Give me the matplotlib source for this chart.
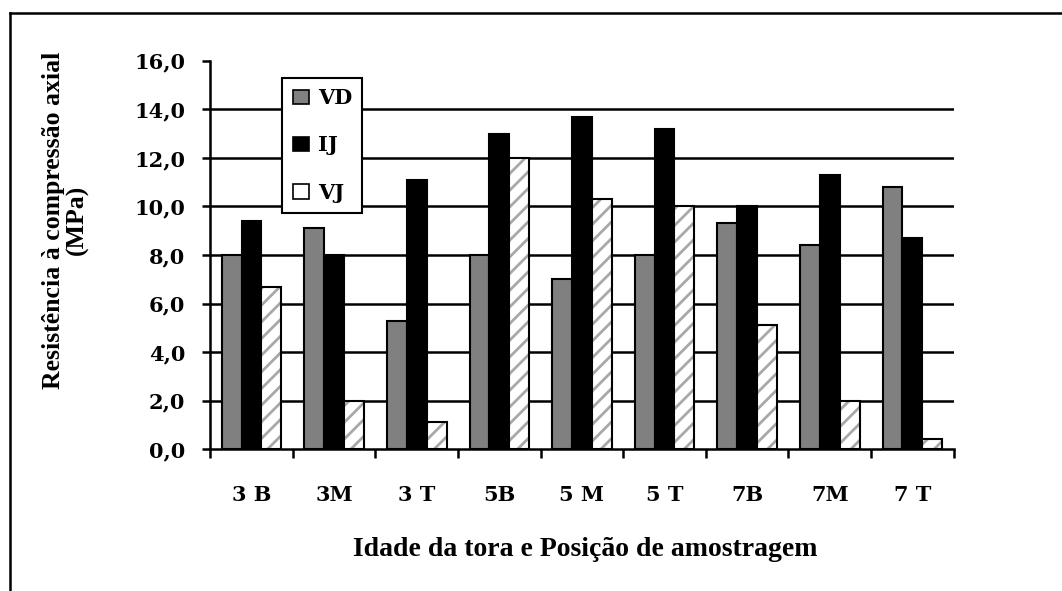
import numpy as np
import matplotlib
matplotlib.use('Agg')
import matplotlib.pyplot as plt
from matplotlib.patches import Patch
from matplotlib.lines import Line2D

plt.rcParams['font.family'] = ['DejaVu Serif']
plt.rcParams['font.weight'] = 'bold'
plt.rcParams['hatch.linewidth'] = 2.0

categories = ['3 B', '3M', '3 T', '5B', '5 M', '5 T', '7B', '7M', '7 T']
vd = [8.0, 9.1, 5.3, 8.0, 7.0, 8.0, 9.3, 8.4, 10.8]
ij = [9.4, 8.0, 11.1, 13.0, 13.7, 13.2, 10.0, 11.3, 8.7]
vj = [6.7, 2.0, 1.1, 12.0, 10.3, 10.0, 5.1, 2.0, 0.4]
y_ticks = [0, 2, 4, 6, 8, 10, 12, 14, 16]

fig = plt.figure(figsize=(10.62, 5.91), dpi=100)
ax = fig.add_axes([0.198, 0.240, 0.700, 0.657])

x = np.arange(len(categories))
w = 0.24

# gridlines behind the bars
for yv in y_ticks[1:-1]:
    ax.axhline(yv, color='black', linewidth=1.8, zorder=0)

ax.bar(x - w, vd, w, color='#808080', edgecolor='black', linewidth=1.5, zorder=2)
ax.bar(x, ij, w, color='black', edgecolor='black', linewidth=1.5, zorder=2)
# hatched bars: draw hatch in grey, then the black outline on top
ax.bar(x + w, vj, w, color='white', edgecolor='#a8a8a8', hatch='//', linewidth=0, zorder=2)
ax.bar(x + w, vj, w, fill=False, edgecolor='black', linewidth=1.5, zorder=3)

ax.set_xlim(-0.5, len(categories) - 0.5)
ax.set_ylim(0, 16)

ax.set_yticks(y_ticks)
ax.set_yticklabels([f'{v:.1f}'.replace('.', ',') for v in y_ticks], fontsize=15)

# ticks between categories, labels centred on categories
ax.set_xticks(np.arange(len(categories) + 1) - 0.5)
ax.set_xticklabels([])
ax.set_xticks(x, minor=True)
ax.set_xticklabels(categories, minor=True, fontsize=15)
ax.tick_params(axis='x', which='minor', length=0, pad=26)
ax.tick_params(axis='x', which='major', length=6.5, width=1.8, direction='out')
ax.tick_params(axis='y', length=6, width=1.8, direction='out', pad=12)

for s in ['top', 'right']:
    ax.spines[s].set_visible(False)
for s in ['left', 'bottom']:
    ax.spines[s].set_linewidth(1.8)

ax.set_xlabel('Idade da tora e Posição de amostragem', fontsize=20, fontweight='bold',
              family='Liberation Serif')
ax.xaxis.set_label_coords(0.504, -0.225)
ax.set_ylabel('Resistência à compressão axial\n(MPa)', fontsize=18.5, fontweight='bold',
              family='Liberation Serif', linespacing=1.05)
ax.yaxis.set_label_coords(-0.163, 0.59)

handles = [
    Patch(facecolor='#808080', edgecolor='black', linewidth=1.2),
    Patch(facecolor='black', edgecolor='black', linewidth=1.2),
    Patch(facecolor='white', edgecolor='black', linewidth=1.2),
]
leg = ax.legend(handles, ['VD', 'IJ', 'VJ'], loc='upper left', bbox_to_anchor=(0.097, 0.956),
                borderaxespad=0, fontsize=15, handlelength=0.8, handleheight=0.7,
                handletextpad=0.4, labelspacing=1.3, fancybox=False, framealpha=1,
                edgecolor='black', borderpad=0.5)
leg.get_frame().set_linewidth(1.5)
leg.set_zorder(5)

# outer frame (left and top edges visible)
fig.add_artist(Line2D([10 / 1062, 10 / 1062], [0, 1 - 13 / 591], transform=fig.transFigure,
                      color='black', linewidth=1.8))
fig.add_artist(Line2D([10 / 1062, 1], [1 - 13 / 591, 1 - 13 / 591], transform=fig.transFigure,
                      color='black', linewidth=1.8))

fig.savefig('out.png', dpi=100)
